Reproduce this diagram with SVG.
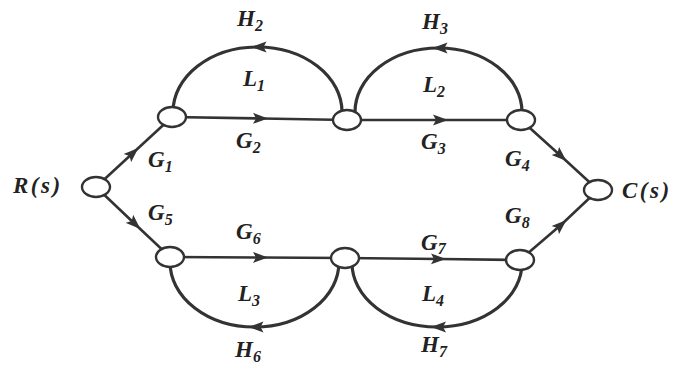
<svg xmlns="http://www.w3.org/2000/svg" width="685" height="367" viewBox="0 0 685 367">
<defs>
<marker id="arr" markerUnits="userSpaceOnUse" markerWidth="16" markerHeight="12" viewBox="0 0 16 12" refX="9" refY="6" orient="auto">
<path d="M0,0.5 L15,6 L0,11.5 L3,6 Z" fill="#333"/>
</marker>
<style>
.e{fill:none;stroke:#333;stroke-width:2.6;marker-mid:url(#arr)}
.f{fill:none;stroke:#333;stroke-width:3.2;marker-mid:url(#arr)}
.n{fill:#fff;stroke:#333;stroke-width:2.4}
.t{font-family:"Liberation Serif","Times New Roman",serif;font-weight:bold;font-style:italic;font-size:23px;fill:#222}
.s{font-size:16px}
.w{letter-spacing:2.5px}
</style>
</defs>
<rect width="685" height="367" fill="#fff"/>
<g id="connectors">
<path class="e" d="M96,187 L134,152 L172,117"/>
<path class="e" d="M172,117 L262,118.5 L347,120"/>
<path class="e" d="M347,120 L442,120 L521,120"/>
<path class="e" d="M521,120 L562,157 L598,190"/>
<path class="e" d="M96,187 L136,225 L170,257"/>
<path class="e" d="M170,257 L262,257.5 L345,258"/>
<path class="e" d="M345,258 L440,259 L520,260"/>
<path class="e" d="M520,260 L562,224 L598,190"/>
<path class="f" d="M342,112 A84.5,65 0 0 0 257.5,47 A84.5,65 0 0 0 173,112"/>
<path class="f" d="M522,112 A83.5,64 0 0 0 438.5,48 A83.5,64 0 0 0 355,112"/>
<path class="f" d="M339,262 A84.5,65 0 0 1 254.5,327 A84.5,65 0 0 1 170,262"/>
<path class="f" d="M522,263 A85,64 0 0 1 437,327 A85,64 0 0 1 352,263"/>
</g>
<g id="R"><ellipse class="n" cx="96" cy="187" rx="14" ry="10"/><text class="t w" x="13" y="193">R(s)</text></g>
<g id="N1"><ellipse class="n" cx="172" cy="117" rx="14" ry="10"/></g>
<g id="N2"><ellipse class="n" cx="347" cy="120" rx="14" ry="10"/></g>
<g id="N3"><ellipse class="n" cx="521" cy="120" rx="14" ry="10"/></g>
<g id="C"><ellipse class="n" cx="598" cy="190" rx="14" ry="10"/><text class="t w" x="622" y="198">C(s)</text></g>
<g id="N5"><ellipse class="n" cx="170" cy="257" rx="14" ry="10"/></g>
<g id="N6"><ellipse class="n" cx="345" cy="258" rx="14" ry="10"/></g>
<g id="N7"><ellipse class="n" cx="520" cy="260" rx="14" ry="10"/></g>
<g id="labels">
<text class="t" x="237" y="26">H<tspan class="s" dy="5">2</tspan></text>
<text class="t" x="243" y="86">L<tspan class="s" dy="5">1</tspan></text>
<text class="t" x="236" y="148">G<tspan class="s" dy="5">2</tspan></text>
<text class="t" x="148" y="167">G<tspan class="s" dy="5">1</tspan></text>
<text class="t" x="422" y="29">H<tspan class="s" dy="5">3</tspan></text>
<text class="t" x="423" y="92">L<tspan class="s" dy="5">2</tspan></text>
<text class="t" x="421" y="149">G<tspan class="s" dy="5">3</tspan></text>
<text class="t" x="505" y="166">G<tspan class="s" dy="5">4</tspan></text>
<text class="t" x="148" y="220">G<tspan class="s" dy="5">5</tspan></text>
<text class="t" x="236" y="239">G<tspan class="s" dy="5">6</tspan></text>
<text class="t" x="238" y="301">L<tspan class="s" dy="5">3</tspan></text>
<text class="t" x="235" y="357">H<tspan class="s" dy="5">6</tspan></text>
<text class="t" x="421" y="250">G<tspan class="s" dy="4">7</tspan></text>
<text class="t" x="505" y="223">G<tspan class="s" dy="5">8</tspan></text>
<text class="t" x="422" y="301">L<tspan class="s" dy="5">4</tspan></text>
<text class="t" x="421" y="352">H<tspan class="s" dy="5">7</tspan></text>
</g>
</svg>
